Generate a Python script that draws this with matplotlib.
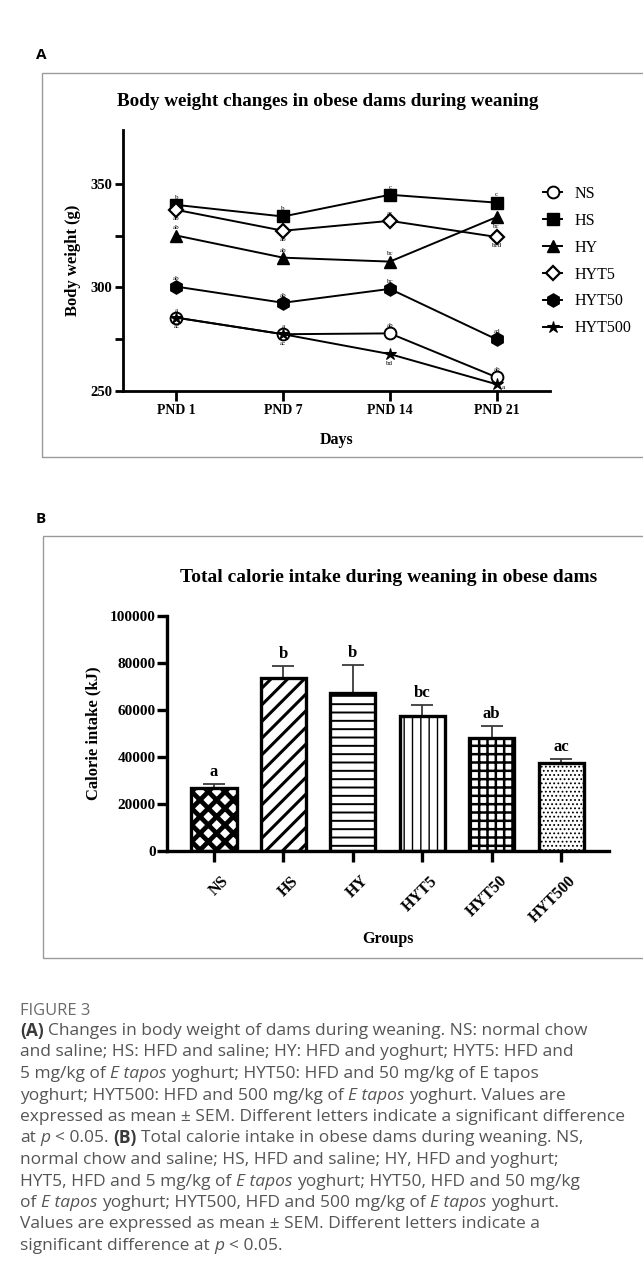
import matplotlib
matplotlib.use('Agg')
import matplotlib.pyplot as plt
from matplotlib.patches import Rectangle
import matplotlib.transforms as mtrans

# ---------------- data ----------------
days = ['PND 1', 'PND 7', 'PND 14', 'PND 21']
series_names = ['NS', 'HS', 'HY', 'HYT5', 'HYT50', 'HYT500']
weight_NS = [285.3, 277.3, 277.7, 256.5]
weight_HS = [339.8, 334.2, 344.7, 340.9]
weight_HY = [325.0, 314.3, 312.4, 333.9]
weight_HYT5 = [337.4, 327.3, 332.1, 324.3]
weight_HYT50 = [300.3, 292.5, 299.2, 274.8]
weight_HYT500 = [285.3, 277.3, 267.7, 253.1]
letters_NS = ['a', 'a', 'ab', 'ab']
letters_HS = ['b', 'b', 'c', 'c']
letters_HY = ['ab', 'ab', 'bc', 'bc']
letters_HYT5 = ['ab', 'ab', 'ac', 'bcd']
letters_HYT50 = ['ab', 'ab', 'bc', 'ad']
letters_HYT500 = ['ac', 'ac', 'bd', 'a']

groups = ['NS', 'HS', 'HY', 'HYT5', 'HYT50', 'HYT500']
calorie_mean = [26600, 73700, 67300, 57300, 48150, 37240]
calorie_sem = [1700, 5000, 11800, 4650, 4980, 1830]
calorie_letters = ['a', 'b', 'b', 'bc', 'ab', 'ac']

# ---------------- layout helpers ----------------
W, H = 643, 1283
fig = plt.figure(figsize=(W / 100, H / 100), dpi=100)
fig.patch.set_facecolor('white')


def fx(x):
    return x / W


def fy(y):
    return 1 - y / H


def axrect(x0, y0, x1, y1):
    return [fx(x0), fy(y1), (x1 - x0) / W, (y1 - y0) / H]


SERIF = ['Liberation Serif', 'DejaVu Serif']
SANS = ['Open Sans', 'DejaVu Sans']
renderer = fig.canvas.get_renderer()

# panel boxes
fig.patches.append(Rectangle((fx(42), fy(457)), 1.0, (457 - 73) / H, transform=fig.transFigure,
                             fill=False, ec='#9a9a9a', lw=1.0))
fig.patches.append(Rectangle((fx(43), fy(958)), 1.0, (958 - 536) / H, transform=fig.transFigure,
                             fill=False, ec='#9a9a9a', lw=1.0))
fig.text(fx(36), fy(55), 'A', family=SANS, fontsize=11, weight='bold', va='center', ha='left')
fig.text(fx(36), fy(519), 'B', family=SANS, fontsize=11, weight='bold', va='center', ha='left')


def fitted_title(x, y, s, width):
    t = fig.text(fx(x), fy(y), s, family=SERIF, weight='bold', fontsize=13, ha='center', va='center')
    w = t.get_window_extent(renderer).width
    t.set_fontsize(13 * width / w)
    return t


fitted_title(328, 102, 'Body weight changes in obese dams during weaning', 421)
fitted_title(388.5, 578, 'Total calorie intake during weaning in obese dams', 415)

# ---------------- panel A ----------------
ax1 = fig.add_axes(axrect(123, 130, 550, 390.7))
ax1.set_xlim(-0.5, 3.5)
ax1.set_ylim(250, 376)
xs = list(range(len(days)))
styles = {
    'NS': dict(marker='o', ms=8.5, mfc='white', mew=1.4),
    'HS': dict(marker='s', ms=8.5, mfc='black', mew=1.0),
    'HY': dict(marker='^', ms=9, mfc='black', mew=1.0),
    'HYT5': dict(marker='D', ms=7, mfc='white', mew=1.6),
    'HYT50': dict(marker='h', ms=9.5, mfc='black', mew=1.0),
    'HYT500': dict(marker='*', ms=9, mfc='black', mew=0.8),
}
data = {'NS': weight_NS, 'HS': weight_HS, 'HY': weight_HY, 'HYT5': weight_HYT5,
        'HYT50': weight_HYT50, 'HYT500': weight_HYT500}
letters = {'NS': letters_NS, 'HS': letters_HS, 'HY': letters_HY, 'HYT5': letters_HYT5,
           'HYT50': letters_HYT50, 'HYT500': letters_HYT500}
# where each letter sits relative to its marker (u = above, d = below, r = right)
letter_side = {'NS': 'uuuu', 'HS': 'uuuu', 'HY': 'uuud', 'HYT5': 'ddud', 'HYT50': 'uuuu',
               'HYT500': 'dddr'}
handles = []
for name in series_names:
    ln, = ax1.plot(xs, data[name], color='black', lw=1.4, mec='black', label=name,
                   clip_on=False, **styles[name])
    handles.append(ln)
    for i, (xv, yv) in enumerate(zip(xs, data[name])):
        side = letter_side[name][i]
        off = {'u': (0, 5.5), 'd': (0, -6.5), 'r': (5, -2)}[side]
        ax1.annotate(letters[name][i], (xv, yv), xytext=off, textcoords='offset points',
                     ha='center', va='center', fontsize=5, family=SERIF)

for s in ['top', 'right']:
    ax1.spines[s].set_visible(False)
for s in ['left', 'bottom']:
    ax1.spines[s].set_linewidth(2.0)
ax1.set_yticks([250, 300, 350])
ax1.set_yticks([275, 325], minor=True)
ax1.set_xticks(xs)
ax1.set_xticklabels(days)
ax1.tick_params(axis='both', which='both', width=2.0, length=6, direction='out', pad=1.5)
ax1.tick_params(axis='x', length=7, pad=2.5)
for lab in ax1.get_yticklabels():
    lab.set_family(SERIF)
    lab.set_fontweight('bold')
    lab.set_fontsize(10.5)
for lab in ax1.get_xticklabels():
    lab.set_family(SERIF)
    lab.set_fontweight('bold')
    lab.set_fontsize(10)
ax1.set_xlabel('Days', family=SERIF, weight='bold', fontsize=11.5, labelpad=11)
ax1.set_ylabel('Body weight (g)', family=SERIF, weight='bold', fontsize=12, labelpad=7)
ax1.legend(handles=handles, loc='upper left', bbox_to_anchor=(fx(543), fy(186)),
           bbox_transform=fig.transFigure, frameon=False,
           prop={'family': SERIF, 'size': 11.5}, handlelength=1.2, handletextpad=0.8,
           labelspacing=0.68, borderpad=0, borderaxespad=0)

# ---------------- panel B ----------------
ax2 = fig.add_axes(axrect(167, 616, 609, 850.7))
ax2.set_xlim(-0.677, 5.69)
ax2.set_ylim(0, 100000)
hatches = ['xx', '//', '--', '||', '++', '....']
hatch_lw = [3.4, 2.2, 1.4, 1.0, 1.8, 0.8]
bx = list(range(len(groups)))
for i, g in enumerate(groups):
    with plt.rc_context({'hatch.linewidth': hatch_lw[i], 'hatch.color': 'black'}):
        bars = ax2.bar(bx[i], calorie_mean[i], width=0.65, color='white', edgecolor='black',
                       linewidth=2.4, hatch=hatches[i], zorder=3)
    for b in bars:
        if hasattr(b, 'set_hatch_linewidth'):
            b.set_hatch_linewidth(hatch_lw[i])
ax2.errorbar(bx, calorie_mean, yerr=[[0] * len(groups), calorie_sem], fmt='none',
             ecolor='#3a3a3a', elinewidth=1.3, capsize=7.8, capthick=1.3, zorder=2)
for xv, m, e, l in zip(bx, calorie_mean, calorie_sem, calorie_letters):
    ax2.annotate(l, (xv, m + e), xytext=(0, 3), textcoords='offset points', ha='center',
                 va='bottom', family=SERIF, weight='bold', fontsize=12)
for s in ['top', 'right']:
    ax2.spines[s].set_visible(False)
for s in ['left', 'bottom']:
    ax2.spines[s].set_linewidth(2.4)
    ax2.spines[s].set_zorder(4)
ax2.set_yticks([0, 20000, 40000, 60000, 80000, 100000])
ax2.set_xticks(bx)
ax2.set_xticklabels(groups, rotation=45, ha='right', va='top', rotation_mode='anchor')
ax2.tick_params(axis='both', width=2.4, length=7, direction='out', pad=1)
ax2.tick_params(axis='x', length=8, pad=8)
offset = mtrans.ScaledTranslation(7 / 100, 0, fig.dpi_scale_trans)
for lab in ax2.get_xticklabels():
    lab.set_transform(lab.get_transform() + offset)
for lab in ax2.get_yticklabels():
    lab.set_family(SERIF)
    lab.set_fontweight('bold')
    lab.set_fontsize(11)
for lab in ax2.get_xticklabels():
    lab.set_family(SERIF)
    lab.set_fontweight('bold')
    lab.set_fontsize(11.5)
ax2.set_xlabel('Groups', family=SERIF, weight='bold', fontsize=11.5, labelpad=4)
ax2.set_ylabel('Calorie intake (kJ)', family=SERIF, weight='bold', fontsize=12, labelpad=6)

# ---------------- caption ----------------
cap_lines = [
    [('(A)', 'b'), (' Changes in body weight of dams during weaning. NS: normal chow', 'n')],
    [('and saline; HS: HFD and saline; HY: HFD and yoghurt; HYT5: HFD and', 'n')],
    [('5 mg/kg of ', 'n'), ('E tapos', 'i'), (' yoghurt; HYT50: HFD and 50 mg/kg of E tapos', 'n')],
    [('yoghurt; HYT500: HFD and 500 mg/kg of ', 'n'), ('E tapos', 'i'), (' yoghurt. Values are', 'n')],
    [('expressed as mean \u00b1 SEM. Different letters indicate a significant difference', 'n')],
    [('at ', 'n'), ('p', 'i'), (' < 0.05. ', 'n'), ('(B)', 'b'),
     (' Total calorie intake in obese dams during weaning. NS,', 'n')],
    [('normal chow and saline; HS, HFD and saline; HY, HFD and yoghurt;', 'n')],
    [('HYT5, HFD and 5 mg/kg of ', 'n'), ('E tapos', 'i'), (' yoghurt; HYT50, HFD and 50 mg/kg', 'n')],
    [('of ', 'n'), ('E tapos', 'i'), (' yoghurt; HYT500, HFD and 500 mg/kg of ', 'n'), ('E tapos', 'i'),
     (' yoghurt.', 'n')],
    [('Values are expressed as mean \u00b1 SEM. Different letters indicate a', 'n')],
    [('significant difference at ', 'n'), ('p', 'i'), (' < 0.05.', 'n')],
]
CAP_COLOR = '#555555'


def text_width(s, size, style):
    kw = dict(family=SANS, fontsize=size)
    if style == 'b':
        kw['weight'] = 'bold'
    if style == 'i':
        kw['style'] = 'italic'
    t = fig.text(0, 0, s, **kw)
    w = t.get_window_extent(renderer).width
    t.remove()
    return w


def draw_line(x, y, segs, size):
    space = text_width('a a', size, 'n') - text_width('aa', size, 'n')
    for s, style in segs:
        lead = len(s) - len(s.lstrip(' '))
        trail = len(s) - len(s.rstrip(' '))
        core = s.strip(' ')
        x += lead * space
        kw = dict(family=SANS, fontsize=size, color=CAP_COLOR, va='center', ha='left')
        if style == 'b':
            kw['weight'] = 'bold'
            kw['color'] = '#3a3a3a'
        if style == 'i':
            kw['style'] = 'italic'
        t = fig.text(fx(x), fy(y), core, **kw)
        x += t.get_window_extent(renderer).width + trail * space


cap_size = 10.5
w5 = text_width(cap_lines[4][0][0], cap_size, 'n')
cap_size = cap_size * 608 / w5

fig.text(fx(20), fy(1011), 'FIGURE 3', family=SANS, fontsize=cap_size * 0.95, color='#6a6a6a',
         va='center', ha='left')
y0 = 1031
for k, segs in enumerate(cap_lines):
    draw_line(20, y0 + k * 21.5, segs, cap_size)

fig.savefig('out.png', dpi=100, facecolor='white')
